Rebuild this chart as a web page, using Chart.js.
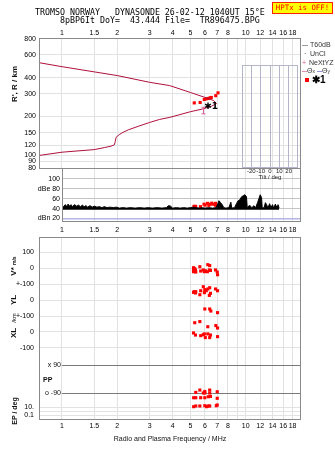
<!DOCTYPE html>
<html>
<head>
<meta charset="utf-8">
<script src="https://cdn.jsdelivr.net/npm/chart.js@4.4.1/dist/chart.umd.min.js"></script>
<style>
  html, body { margin: 0; padding: 0; background: #fff; }
  #page { position: relative; width: 335px; height: 451px; overflow: hidden;
          font-family: "Liberation Sans", Arial, sans-serif; color: #111; }
  #page canvas { position: absolute; left: 0; top: 0; }
  .t { position: absolute; white-space: pre; line-height: 1; }
  .mono { font-family: "DejaVu Sans Mono", monospace; font-size: 8.3px; color: #000; }
  .rot { transform: translate(-50%, -50%) rotate(-90deg); font-weight: bold; font-size: 8px; }
  .leg { font-size: 7px; color: #333; }
  .sw { position: absolute; height: 1px; }
  #hptx { position: absolute; left: 272px; top: 2px; width: 59px; height: 10px;
          background: #ffff00; border: 1px solid #ff2000; color: #ff0000;
          font-family: "DejaVu Sans Mono", monospace; font-size: 7.4px; line-height: 10px; text-align: center; }
</style>
</head>
<body>
<div id="page">
  <canvas id="c1" width="335" height="451"></canvas>
  <canvas id="c2" width="335" height="451"></canvas>
  <canvas id="c3" width="335" height="451"></canvas>
  <canvas id="c4" width="335" height="451"></canvas>

  <div class="t mono" style="left:35px;top:8px">TROMSO NORWAY   DYNASONDE 26-02-12 1040UT 15°E</div>
  <div class="t mono" style="left:60px;top:16px">8pBP6It DoY=  43.444 File=  TR896475.BPG</div>
  <div id="hptx">HPTx is OFF!</div>

  <div class="t rot" style="left:15px;top:84px">R', R / km</div>
  <div class="t rot" style="left:14px;top:266px">V* <span style="font-size:5px">m/s</span></div>
  <div class="t rot" style="left:14px;top:300px">YL</div>
  <div class="t rot" style="left:14px;top:318px;font-size:6px;font-weight:normal">/km</div>
  <div class="t rot" style="left:14px;top:333px">XL</div>
  <div class="t" style="left:43px;top:376px;font-size:7px;font-weight:bold">PP</div>
  <div class="t rot" style="left:14px;top:411px;font-size:7px">EP / deg</div>

  <!-- legend -->
  <div class="sw" style="left:302px;top:45px;width:6px;background:#999"></div>
  <div class="t leg" style="left:310px;top:41px">T60dB</div>
  <div class="t leg" style="left:304px;top:50px">·</div>
  <div class="t leg" style="left:310px;top:50px">UnCl</div>
  <div class="t leg" style="left:302px;top:59px;color:#e0609a">+</div>
  <div class="t leg" style="left:309px;top:59px">NeXtYZ</div>
  <div class="sw" style="left:302px;top:71px;width:5px;background:#e890a8"></div>
  <div class="t leg" style="left:307px;top:67px">Θ<span style="font-size:5px">x</span></div>
  <div class="sw" style="left:317px;top:71px;width:5px;background:#9090e0"></div>
  <div class="t leg" style="left:322px;top:67px">Θ<span style="font-size:5px">y</span></div>
  <div style="position:absolute;left:305px;top:78px;width:4px;height:4px;background:#ff0000"></div>
  <div class="t" style="left:312px;top:75px;font-size:10px;font-weight:bold;color:#000">✱1</div>
</div>
<script>
// frequency axis shared by every panel
const FREQ_MIN = 0.75;
const FREQ_MAX = 20;
const freqTicks = [1, 1.5, 2, 3, 4, 5, 6, 7, 8, 9, 10, 12, 14, 16, 18];
const freqLabels = ['1', '1.5', '2', '3', '4', '5', '6', '7', '8', '', '10', '12', '14', '16', '18'];

// range trace: lower branch out to the nose, then back along the upper branch
const profileFreq = [0.75, 1, 1.5, 1.7, 1.85, 1.93, 1.95, 1.97, 2.05, 2.15, 2.3, 2.6, 3, 3.4, 3.86, 5, 5.84, 6.5, 6.93,
                     6.7, 6.1, 5, 3.86, 3, 2, 1.5, 1, 0.75];
const profileHeight = [100, 106, 111, 115, 118, 121, 128, 138, 145, 151, 158, 168, 180, 190, 197, 218, 229, 240, 252,
                       266, 279, 307, 347, 368, 415, 443, 486, 522];
const heightTicks = [80, 90, 100, 120, 150, 200, 300, 400, 600, 800];

// echoes of class *1
const x1Freq = [5.25, 5.65, 5.95, 6.1, 6.25, 6.4, 6.5, 6.87, 7.07];
const x1Height = [255, 257, 271, 274, 276, 279, 281, 290, 305];

// NeXtYZ estimate with its spread
const nextyzFreq = [5.84];
const nextyzHeight = [223];
const nextyzSpread = [13];

// amplitude panel
const noiseFreq = [1.00, 1.02, 1.04, 1.06, 1.08, 1.10, 1.12, 1.14,
  1.17, 1.20, 1.23, 1.26, 1.29, 1.32, 1.35, 1.38,
  1.42, 1.46, 1.50, 1.55, 1.60, 1.65, 1.70, 1.76, 1.82, 1.90, 1.98,
  2.05, 2.15, 2.25, 2.35, 2.50, 2.65, 2.80, 2.95,
  3.10, 3.30, 3.50, 3.70, 3.80, 3.90, 4.00,
  4.20, 4.40, 4.60, 4.80, 5.00, 5.20, 5.40, 5.60, 5.80, 6.00,
  6.30, 6.60, 6.90, 7.05, 7.15, 7.30, 7.45, 7.60, 7.80,
  8.10, 8.30, 8.40, 8.70, 8.90, 9.10, 9.30, 9.50, 9.70, 9.90,
  10.1, 10.2, 10.5, 10.8, 11.1, 11.3, 11.6, 11.8, 12.0, 12.2,
  12.3, 12.6, 12.8, 13.0, 13.2, 13.5, 13.7, 14.0, 14.2, 14.5,
  14.8, 15.0, 15.2];
const noiseDb = [47, 44, 48, 45, 49, 45, 48, 44,
  48, 45, 47, 44, 47, 44, 46, 43,
  46, 43, 45, 43, 44, 42, 44, 42, 43, 42, 43,
  41, 42, 41, 42, 41, 42, 41, 42,
  41, 42, 41, 42, 46, 45, 41,
  42, 41, 42, 41, 42, 43, 42, 41, 42, 41,
  42, 41, 42, 50, 56, 52, 48, 42, 41,
  42, 53, 41, 42, 50, 56, 58, 64, 66, 68,
  64, 41, 47, 42, 46, 41, 52, 60, 68, 62,
  41, 42, 52, 48, 41, 50, 42, 48, 41, 49,
  42, 48, 41];
const x1DbFreq = [5.23, 5.34, 5.67, 5.93, 6.01, 6.19, 6.3, 6.43, 6.54, 6.7, 6.85, 6.87];
const x1Db = [44.6, 44.6, 44, 49, 47, 50.6, 46.6, 49, 51, 48.6, 50.6, 46.6];
const dbTicks = [20, 40, 60, 80, 100];
const dbLabels = ['dBn 20', '40', '60', 'dBe 80', '100'];

// Doppler velocity, m/s
const velFreq = [5.2, 5.28, 5.2, 5.33, 5.35, 5.2, 5.63, 5.69, 5.88, 5.96, 6.03, 6.19, 6.22, 6.37, 6.34, 6.43, 6.85, 7.0, 7.03];
const velMs = [2, -4, -12, -12, -25, -23, 8, -19, -12, -23, -17, -23, 21, 15, -12, -15, -12, -25, -42];
// echo location, km
const ylFreq = [5.88, 5.99, 5.25, 5.35, 5.2, 5.33, 5.63, 5.69, 5.96, 6.1, 6.22, 6.37, 6.43, 6.34, 6.85, 7.03,
                5.99, 6.37, 6.46, 7.03];
const ylKm = [83, 65, 52, 52, 48, 44, 33, 58, 46, 58, 69, 77, 42, 29, 69, 58,
              -56, -56, -69, -79];
const xlFreq = [5.28, 5.63, 6.22, 6.88, 7.03, 5.2, 5.33, 5.69, 5.88, 5.96, 6.22, 6.43, 7.03, 6.03, 6.37];
const xlKm = [58, 65, 33, 40, 25, -6, -19, -23, -17, -12, -12, -19, -29, -35, -35];
// polarization and polarization error
const ppFreq = [5.63, 6.37, 5.35, 5.99, 5.88, 5.99, 6.37, 7.0];
const ppDeg = [-71, -71, -86, -80, -90, -90, -90, -82];
const epFreq = [5.21, 5.35, 5.69, 5.99, 6.25, 6.43, 7.0,
                5.21, 5.35, 5.63, 5.99, 6.13, 6.25, 6.37, 6.92, 7.0];
const epDeg = [2100, 2100, 2100, 2100, 3700, 4500, 1500,
               12, 18, 18, 21, 12, 18, 18, 21, 32];

const tiltTicks = [-20, -10, 0, 10, 20];

// stacked strips of the lower panel share one linear axis
const bandV = v => v;
const bandYL = v => -200 + v;
const bandXL = v => -400 + v;
const bandPP = d => -694 + d * 0.972;
const bandEP = e => -894 + 25 * Math.log10(e);

const bandTicks = [
  [bandV(100), '100'], [bandV(0), '0'], [bandV(-100), '+-100'],
  [bandYL(0), '0'], [bandXL(100), '+-100'], [bandXL(0), '0'], [bandXL(-100), '-100'],
  [bandEP(10), '10.'], [bandEP(1), ''], [bandEP(0.1), '0.1']
];

const zip = (xs, ys, f = v => v) => xs.map((x, i) => ({ x, y: f(ys[i]) }));

Chart.defaults.font.family = '"Liberation Sans", Arial, sans-serif';
Chart.defaults.font.size = 7;
Chart.defaults.color = '#111';
Chart.defaults.animation = false;
Chart.defaults.responsive = false;
Chart.defaults.devicePixelRatio = 1;
Chart.defaults.plugins.legend.display = false;
Chart.defaults.plugins.tooltip.enabled = false;
Chart.defaults.layout.autoPadding = false;

const GRID = '#e2e2e2';

const framePlugin = {
  id: 'frame',
  afterDatasetsDraw(chart, args, opts) {
    const { ctx, chartArea: a } = chart;
    ctx.save();
    ctx.strokeStyle = opts.color || '#8a8a8a';
    ctx.lineWidth = 1;
    ctx.strokeRect(a.left + 0.5, a.top + 0.5, a.right - a.left - 1, a.bottom - a.top);
    ctx.restore();
  }
};

function freqAxis(o) {
  return {
    type: 'logarithmic',
    position: o.position || 'bottom',
    min: o.min || FREQ_MIN,
    max: FREQ_MAX,
    afterBuildTicks: s => { s.ticks = freqTicks.map(v => ({ value: v })); },
    afterFit: s => { s.height = o.height; },
    ticks: { autoSkip: false, maxRotation: 0, padding: o.pad, color: '#000',
             callback: (v, i) => freqLabels[i] },
    grid: { color: GRID, drawTicks: false },
    border: { display: false },
    title: o.title ? { display: true, text: o.title, padding: 0, color: '#111' } : { display: false }
  };
}

// NeXtYZ bar and the *1 tag in the range panel
const rangeMarks = {
  id: 'rangeMarks',
  afterDatasetsDraw(chart) {
    const { ctx, scales: { x, y } } = chart;
    ctx.save();
    ctx.strokeStyle = '#e0609a';
    ctx.lineWidth = 1;
    nextyzFreq.forEach((f, i) => {
      const px = Math.round(x.getPixelForValue(f)) + 0.5;
      const top = y.getPixelForValue(nextyzHeight[i] + nextyzSpread[i]);
      const bot = y.getPixelForValue(nextyzHeight[i] - nextyzSpread[i]);
      ctx.beginPath();
      ctx.moveTo(px, top); ctx.lineTo(px, bot);
      ctx.moveTo(px - 2, top); ctx.lineTo(px + 2, top);
      ctx.moveTo(px - 2, bot); ctx.lineTo(px + 2, bot);
      ctx.stroke();
    });
    ctx.fillStyle = '#000';
    ctx.font = 'bold 9px "DejaVu Sans", sans-serif';
    ctx.textBaseline = 'middle';
    ctx.fillText('✱1', x.getPixelForValue(x1Freq[2]), y.getPixelForValue(x1Height[2]) + 7);
    ctx.restore();
  }
};

// polarization guide lines at +-90 deg
const ppGuides = {
  id: 'ppGuides',
  beforeDatasetsDraw(chart) {
    const { ctx, scales: { x, y }, chartArea: a } = chart;
    ctx.save();
    ctx.strokeStyle = '#7a7a7a';
    ctx.lineWidth = 1;
    ctx.fillStyle = '#111';
    ctx.font = '7px "Liberation Sans", Arial, sans-serif';
    ctx.textBaseline = 'middle';
    ctx.textAlign = 'right';
    const x0 = x.getPixelForValue(1);
    [[90, 'x 90'], [-90, 'o -90']].forEach(([deg, label]) => {
      const py = Math.round(y.getPixelForValue(bandPP(deg))) + 0.5;
      ctx.beginPath(); ctx.moveTo(x0, py); ctx.lineTo(a.right, py); ctx.stroke();
      ctx.fillText(label, x0 - 1, py);
    });
    ctx.restore();
  }
};

const redDots = (data) => ({
  data, showLine: false, pointStyle: 'rect', pointRadius: 2.2,
  backgroundColor: '#ff0000', borderWidth: 0
});

// range / height panel
new Chart(document.getElementById('c1'), {
  type: 'line',
  data: {
    datasets: [
      { data: zip(profileFreq, profileHeight), borderColor: '#b0103c', borderWidth: 1,
        pointRadius: 0, tension: 0, fill: false },
      redDots(zip(x1Freq, x1Height))
    ]
  },
  options: {
    layout: { padding: { top: 28, right: 34, bottom: 283, left: 0 } },
    scales: {
      x: freqAxis({ position: 'top', height: 10, pad: 1 }),
      y: {
        type: 'logarithmic', min: 80, max: 810,
        afterBuildTicks: s => { s.ticks = heightTicks.map(v => ({ value: v })); },
        afterFit: s => { s.width = 39; },
        ticks: { padding: 3, color: '#000', callback: v => String(v) },
        grid: { color: GRID, drawTicks: false },
        border: { display: false }
      }
    }
  },
  plugins: [framePlugin, rangeMarks]
});

// amplitude panel
new Chart(document.getElementById('c2'), {
  type: 'line',
  data: {
    datasets: [
      { data: zip(noiseFreq, noiseDb), borderColor: '#000', borderWidth: 1, backgroundColor: '#000',
        pointRadius: 0, tension: 0, fill: { value: 37.5 } },
      redDots(zip(x1DbFreq, x1Db))
    ]
  },
  options: {
    layout: { padding: { top: 168, right: 34, bottom: 216, left: 0 } },
    scales: {
      x: freqAxis({ min: 1, height: 14, pad: 5 }),
      y: {
        type: 'linear', min: 15, max: 122,
        afterBuildTicks: s => { s.ticks = dbTicks.map(v => ({ value: v })); },
        afterFit: s => { s.width = 62; },
        ticks: { padding: 2, color: '#000', callback: (v, i) => dbLabels[i] },
        grid: { color: c => c.tick && c.tick.value === 20 ? '#b4b4e6' : '#c4c4c4',
                lineWidth: c => c.tick && c.tick.value === 20 ? 1.5 : 1, drawTicks: false },
        border: { display: false }
      }
    }
  },
  plugins: [framePlugin]
});

// velocity, location and polarization strips
new Chart(document.getElementById('c3'), {
  type: 'line',
  data: {
    datasets: [
      redDots(zip(velFreq, velMs, bandV)),
      redDots(zip(ylFreq, ylKm, bandYL)),
      redDots(zip(xlFreq, xlKm, bandXL)),
      redDots(zip(ppFreq, ppDeg, bandPP)),
      redDots(zip(epFreq, epDeg, bandEP))
    ]
  },
  options: {
    layout: { padding: { top: 237, right: 34, bottom: 8, left: 0 } },
    scales: {
      x: freqAxis({ height: 24, pad: 3, title: 'Radio and Plasma Frequency / MHz' }),
      y: {
        type: 'linear', min: -944, max: 194,
        afterBuildTicks: s => { s.ticks = bandTicks.map(t => ({ value: t[0] })); },
        afterFit: s => { s.width = 39; },
        ticks: { padding: 5, color: '#000', callback: (v, i) => bandTicks[i][1] },
        grid: { color: GRID, drawTicks: false },
        border: { display: false }
      }
    }
  },
  plugins: [framePlugin, ppGuides]
});

// tilt inset
new Chart(document.getElementById('c4'), {
  type: 'line',
  data: { datasets: [] },
  options: {
    layout: { padding: { top: 65, right: 37, bottom: 270, left: 242 } },
    scales: {
      x: {
        type: 'linear', min: -30, max: 30,
        afterBuildTicks: s => { s.ticks = tiltTicks.map(v => ({ value: v })); },
        afterFit: s => { s.height = 14; },
        ticks: { font: { size: 6 }, padding: 1, color: '#222', autoSkip: false, maxRotation: 0, minRotation: 0 },
        grid: { color: '#b4b4cc', drawTicks: false },
        border: { display: false },
        title: { display: true, text: 'Tilt / deg', font: { size: 6 }, padding: 0, color: '#222' }
      },
      y: { display: false, min: 0, max: 1 }
    },
    plugins: { frame: { color: '#b4b4cc' } }
  },
  plugins: [framePlugin]
});
</script>
</body>
</html>
